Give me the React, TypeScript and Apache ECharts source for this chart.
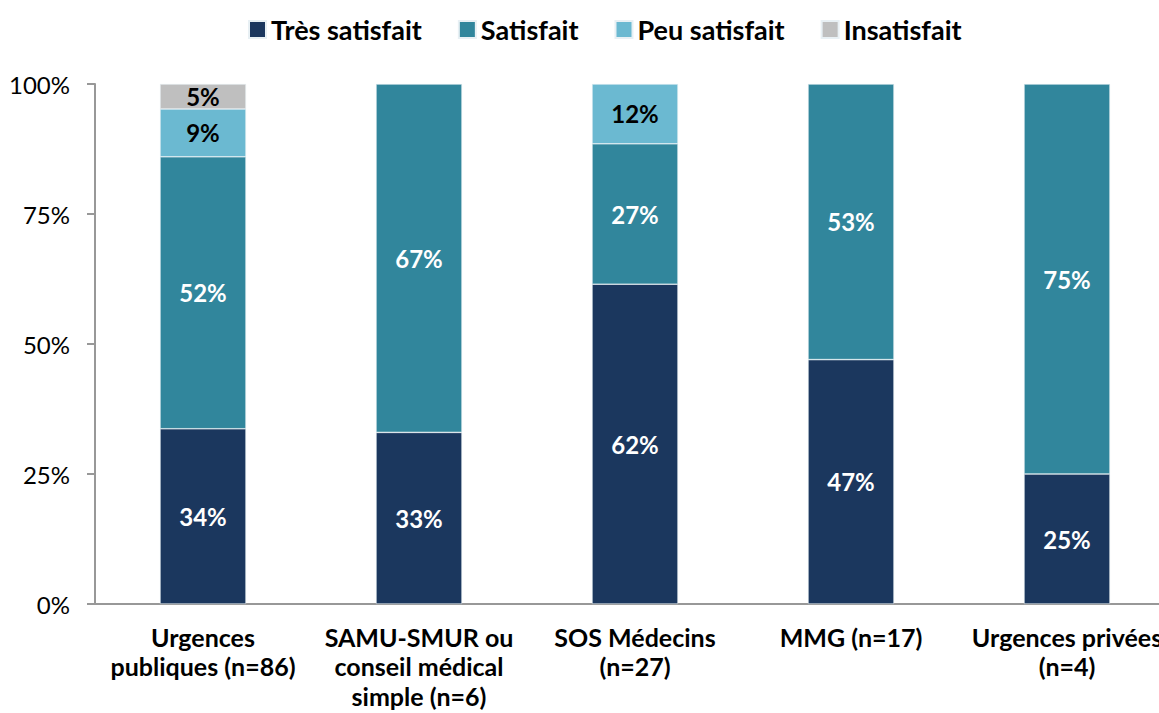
import React, { useEffect, useRef } from "react";
import * as echarts from "echarts";

const categories = [
  "Urgences\npubliques (n=86)",
  "SAMU-SMUR ou\nconseil médical\nsimple (n=6)",
  "SOS Médecins\n(n=27)",
  "MMG (n=17)",
  "Urgences privées\n(n=4)",
];
const seriesNames = ["Très satisfait", "Satisfait", "Peu satisfait", "Insatisfait"];
const tresSatisfait = [33.7, 33, 61.5, 47, 25];
const satisfait = [52.3, 67, 27, 53, 75];
const peuSatisfait = [9.2, null, 11.5, null, null];
const insatisfait = [4.8, null, null, null, null];
const yTicks = [0, 25, 50, 75, 100];

const colors = ["#1B375E", "#31869C", "#6BB9D1", "#BFBFBF"];
const labelColors = ["#FFFFFF", "#FFFFFF", "#000000", "#000000"];
const FONT = "Lato, 'Open Sans', sans-serif";

export default function App() {
  const ref = useRef<HTMLDivElement>(null);
  useEffect(() => {
    if (!ref.current) return;
    const chart = echarts.init(ref.current, null, { renderer: "svg" });
    const allData = [tresSatisfait, satisfait, peuSatisfait, insatisfait];
    chart.setOption({
      animation: false,
      textStyle: { fontFamily: FONT },
      legend: {
        left: 243,
        top: 11,
        itemWidth: 17,
        itemHeight: 17,
        itemGap: 36,
        icon: "rect",
        textStyle: { fontFamily: FONT, fontSize: 27, fontWeight: "bold", color: "#000" },
        data: seriesNames,
      },
      grid: {
        left: 95,
        right: 25,
        top: 84,
        bottom: 109,
        containLabel: false,
        outerBoundsMode: "none",
      },
      xAxis: {
        type: "category",
        data: categories,
        axisLine: { show: true, lineStyle: { color: "#989898", width: 2 } },
        axisTick: { show: false },
        axisLabel: {
          interval: 0,
          margin: 18,
          fontFamily: FONT,
          fontSize: 25,
          fontWeight: "bold",
          color: "#000",
          lineHeight: 29.5,
        },
      },
      yAxis: {
        type: "value",
        min: yTicks[0],
        max: yTicks[yTicks.length - 1],
        interval: 25,
        splitLine: { show: false },
        axisLine: { show: true, lineStyle: { color: "#989898", width: 2 } },
        axisTick: { show: true, length: 8, lineStyle: { color: "#989898", width: 2 } },
        axisLabel: {
          formatter: "{value}%",
          margin: 25,
          fontFamily: FONT,
          fontSize: 24,
          color: "#000",
        },
      },
      series: seriesNames.map((name, i) => ({
        name,
        type: "bar",
        stack: "total",
        barWidth: 86,
        data: allData[i],
        itemStyle: { color: colors[i], borderColor: "#E8F0F4", borderWidth: 0.6 },
        label: {
          show: true,
          position: "inside",
          fontFamily: FONT,
          fontSize: 24,
          fontWeight: "bold",
          color: labelColors[i],
          formatter: (p: any) => (p.value == null ? "" : Math.round(p.value) + "%"),
        },
      })),
    });
    return () => chart.dispose();
  }, []);
  return (
    <div
      style={{
        position: "fixed",
        left: 0,
        top: 0,
        width: 1159,
        height: 713,
        overflow: "hidden",
        background: "#fff",
      }}
    >
      <div ref={ref} style={{ width: 1200, height: 713 }} />
    </div>
  );
}
